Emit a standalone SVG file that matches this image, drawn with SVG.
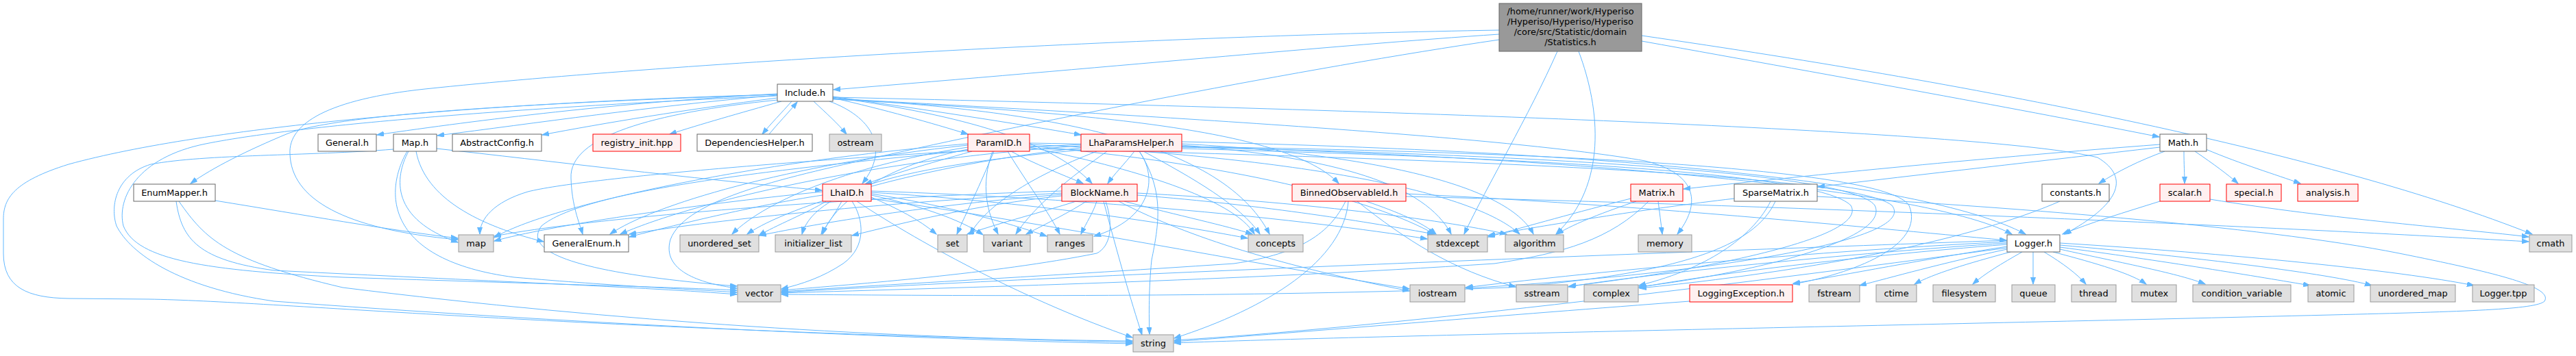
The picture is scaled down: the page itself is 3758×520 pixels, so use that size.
<svg xmlns="http://www.w3.org/2000/svg" width="3758" height="520" viewBox="0 0 3758 520">
<style>
rect{stroke-width:1}
.w{fill:#fff;stroke:#666}
.g{fill:#e0e0e0;stroke:#999}
.r{fill:#fff0f0;stroke:#f00}
.root{fill:#999;stroke:#666}
text{font-family:"DejaVu Sans","Liberation Sans",sans-serif;font-size:12.9px;text-anchor:middle;fill:#000}
#edges path{fill:none;stroke:#63b8ff;stroke-width:1;marker-end:url(#a)}
</style>
<defs>
<marker id="a" markerWidth="12" markerHeight="9" refX="10" refY="3.5" orient="auto" markerUnits="userSpaceOnUse"><path d="M0,0 L10,3.5 L0,7 z" fill="#63b8ff" stroke="#63b8ff"/></marker>
</defs>
<rect width="3758" height="520" fill="#fff"/>
<g id="edges">
<path d="M2187,50 C1950,66 1600,100 1216,131"/>
<path d="M2395,60 C2700,115 2950,160 3150,200"/>
<path d="M2395,52 C2900,125 3400,225 3694,342"/>
<path d="M2272,75 C2230,170 2170,270 2136,342"/>
<path d="M2303,75 C2335,160 2345,270 2270,342"/>
<path d="M2187,44 C1700,52 1000,90 620,130 C480,145 420,180 423,225 C425,290 500,335 668,350"/>
<path d="M2187,58 C1900,100 1500,180 1300,225 C1150,258 1000,290 978,350 C965,395 1020,414 1075,421"/>
<path d="M1134,137 C900,150 700,175 550,197"/>
<path d="M1134,139 C950,155 780,180 638,198"/>
<path d="M1134,143 C1000,160 880,180 791,197"/>
<path d="M1140,148 C1080,165 1020,182 977,196"/>
<path d="M1155,148 C1140,165 1125,180 1112,196"/>
<path d="M1122,196 C1135,180 1150,165 1163,149"/>
<path d="M1187,148 C1205,165 1222,180 1235,196"/>
<path d="M1215,143 C1290,160 1360,180 1412,196"/>
<path d="M1215,141 C1350,160 1480,180 1577,197"/>
<path d="M1210,148 C1270,170 1300,215 1258,268"/>
<path d="M1215,142 C1380,165 1530,200 1593,268"/>
<path d="M1215,145 C1600,165 1880,190 1953,268"/>
<path d="M1215,144 C1500,160 1780,200 1852,342"/>
<path d="M1215,144 C1700,170 2200,200 2400,235 C2480,255 2480,300 2447,342"/>
<path d="M1215,142 C2000,160 2900,190 3060,230 C3110,260 3090,300 3012,342"/>
<path d="M1134,146 C950,165 830,200 833,260 C834,300 845,325 850,342"/>
<path d="M1134,138 C800,150 500,165 420,195 C360,220 310,245 278,268"/>
<path d="M1134,138 C700,150 300,185 100,240 C20,265 5,290 5,320 L5,370 C5,420 40,435 100,436 L217,437 C400,440 800,480 1652,500"/>
<path d="M1134,140 C800,155 450,180 300,210 C200,230 170,290 180,330 C200,380 300,395 500,405 C800,415 1000,420 1075,424"/>
<path d="M596,221 C575,260 570,320 668,354"/>
<path d="M607,221 C620,290 700,330 793,353"/>
<path d="M637,217 C800,235 1000,260 1199,278"/>
<path d="M594,221 C560,280 560,380 750,405 C900,418 1000,422 1075,427"/>
<path d="M574,218 C450,228 300,225 220,240 C170,255 160,300 170,330 C190,370 260,420 400,440 C800,470 1300,495 1652,502"/>
<path d="M314,293 C450,315 560,335 668,348"/>
<path d="M257,294 C265,350 290,380 400,395 C700,410 950,420 1075,430"/>
<path d="M261,294 C300,350 330,380 500,420 C900,470 1300,495 1652,498"/>
<path d="M1418,221 C1350,240 1300,255 1262,269"/>
<path d="M1475,221 C1510,240 1550,255 1580,268"/>
<path d="M1450,221 C1430,270 1410,310 1396,342"/>
<path d="M1448,221 C1430,270 1440,310 1456,342"/>
<path d="M1470,221 C1500,270 1530,310 1546,342"/>
<path d="M1502,215 C1650,245 1800,290 1830,342"/>
<path d="M1412,210 C1100,235 800,300 721,347"/>
<path d="M1412,212 C1150,240 950,300 890,342"/>
<path d="M1412,215 C1250,240 1120,290 1068,342"/>
<path d="M1412,218 C1300,240 1220,290 1200,342"/>
<path d="M1502,213 C1800,240 2000,290 2093,342"/>
<path d="M1502,211 C1900,230 2150,280 2217,342"/>
<path d="M1502,209 C2200,220 2800,270 2935,342"/>
<path d="M1502,217 C2000,230 2700,250 2760,300 C2800,350 2500,400 2139,421"/>
<path d="M1412,220 C1100,250 850,280 790,330 C760,370 850,400 1075,418"/>
<path d="M1655,221 C1640,240 1625,255 1616,268"/>
<path d="M1600,221 C1500,260 1440,300 1415,342"/>
<path d="M1615,221 C1560,260 1510,300 1482,342"/>
<path d="M1662,221 C1690,260 1680,320 1596,345"/>
<path d="M1668,221 C1740,260 1810,300 1838,342"/>
<path d="M1724,212 C1950,230 2080,270 2117,342"/>
<path d="M1724,210 C2000,225 2200,270 2237,342"/>
<path d="M1724,207 C2300,220 2800,260 2955,342"/>
<path d="M1577,211 C1200,230 850,260 770,280 C720,295 700,320 700,342"/>
<path d="M1577,213 C1250,235 1000,300 905,342"/>
<path d="M1577,216 C1350,240 1150,300 1090,342"/>
<path d="M1577,219 C1350,240 1190,270 1170,342"/>
<path d="M1724,217 C2200,230 2650,250 2700,300 C2730,350 2450,400 2289,418"/>
<path d="M1724,215 C2200,225 2700,250 2735,300 C2760,350 2550,400 2391,419"/>
<path d="M1724,214 C2250,222 2750,245 2785,300 C2810,360 2700,400 2616,415"/>
<path d="M1662,221 C1700,280 1690,330 1680,380 C1676,420 1676,460 1677,488"/>
<path d="M1200,280 C1000,300 800,330 721,352"/>
<path d="M1200,285 C1100,300 980,330 918,346"/>
<path d="M1205,294 C1180,310 1130,330 1107,344"/>
<path d="M1228,294 C1220,310 1208,325 1198,342"/>
<path d="M1271,288 C1310,305 1340,320 1366,342"/>
<path d="M1271,285 C1340,300 1400,320 1434,343"/>
<path d="M1271,283 C1380,300 1470,325 1527,345"/>
<path d="M1271,281 C1500,295 1700,325 1820,348"/>
<path d="M1271,279 C1600,290 1900,320 2082,349"/>
<path d="M1243,294 C1260,320 1265,360 1230,385 C1200,405 1170,415 1140,422"/>
<path d="M1250,294 C1350,360 1500,440 1652,493"/>
<path d="M1271,290 C1550,330 1800,380 2056,422"/>
<path d="M1549,279 C1200,290 850,320 721,345"/>
<path d="M1549,282 C1300,295 1050,320 918,342"/>
<path d="M1549,284 C1350,300 1200,325 1108,344"/>
<path d="M1549,286 C1420,300 1320,325 1243,344"/>
<path d="M1570,294 C1520,310 1460,325 1411,342"/>
<path d="M1585,294 C1560,310 1530,325 1497,342"/>
<path d="M1600,294 C1595,310 1585,325 1577,342"/>
<path d="M1640,294 C1720,315 1790,330 1827,342"/>
<path d="M1659,285 C1850,300 2000,325 2092,342"/>
<path d="M1659,282 C1900,295 2100,320 2198,342"/>
<path d="M1610,294 C1630,370 1650,440 1666,489"/>
<path d="M1613,294 C1625,330 1620,360 1600,370 C1450,400 1250,415 1140,424"/>
<path d="M1632,294 C1720,340 1850,385 2056,425"/>
<path d="M1993,294 C2040,310 2075,325 2095,342"/>
<path d="M1980,294 C2050,350 2120,395 2211,419"/>
<path d="M1967,294 C1960,380 1850,450 1713,494"/>
<path d="M1963,294 C1940,340 1900,370 1800,385 C1500,405 1250,418 1140,426"/>
<path d="M2051,287 C2600,300 3300,330 3689,353"/>
<path d="M2051,283 C2400,300 2700,330 2927,351"/>
<path d="M2379,290 C2300,310 2230,330 2171,346"/>
<path d="M2387,294 C2340,310 2300,325 2271,342"/>
<path d="M2419,294 C2421,310 2423,325 2425,342"/>
<path d="M2405,294 C2350,350 2280,370 2180,385 C1800,410 1400,420 1140,428"/>
<path d="M2530,290 C2400,305 2250,330 2171,344"/>
<path d="M2583,294 C2560,340 2500,390 2391,417"/>
<path d="M2590,294 C2560,360 2450,400 2200,420 C1800,435 1400,432 1140,430"/>
<path d="M2651,287 C2900,300 3300,330 3500,370 C3650,400 3725,420 3712,440 C3700,452 3600,455 3400,460 C2800,475 2000,490 1713,501"/>
<path d="M3005,294 C2900,340 2700,390 2392,421"/>
<path d="M3151,294 C3100,310 3050,325 3009,342"/>
<path d="M3224,291 C3400,320 3600,335 3689,346"/>
<path d="M3151,211 C2900,230 2650,255 2456,276"/>
<path d="M3151,215 C2980,235 2800,255 2652,273"/>
<path d="M3158,221 C3120,235 3090,250 3062,268"/>
<path d="M3186,221 C3186,240 3187,255 3187,268"/>
<path d="M3202,221 C3230,240 3250,255 3265,268"/>
<path d="M3218,218 C3270,240 3320,255 3356,268"/>
<path d="M2966,368 L2966,415"/>
<path d="M2950,368 C2920,385 2895,400 2878,415"/>
<path d="M2933,368 C2870,385 2820,400 2793,415"/>
<path d="M2928,364 C2830,385 2760,405 2713,417"/>
<path d="M2928,360 C2800,380 2700,400 2616,414"/>
<path d="M2982,368 C3010,385 3030,400 3043,415"/>
<path d="M2995,368 C3060,385 3110,400 3131,415"/>
<path d="M3005,364 C3100,385 3180,400 3217,415"/>
<path d="M3005,361 C3150,380 3300,405 3370,417"/>
<path d="M3005,358 C3200,375 3400,400 3460,417"/>
<path d="M3005,355 C3250,370 3500,395 3609,417"/>
<path d="M2928,357 C2700,375 2500,400 2391,420"/>
<path d="M2928,355 C2700,370 2400,400 2288,419"/>
<path d="M2928,353 C2600,370 2300,400 2138,420"/>
<path d="M2928,351 C2400,370 1600,400 1140,427"/>
<path d="M2928,362 C2500,420 2000,480 1713,497"/>
<path d="M2465,440 C2200,460 1900,485 1713,499"/>
</g>
<g id="n_root"><rect class="root" x="2187" y="5" width="208" height="70"/><text x="2291" y="21">/home/runner/work/Hyperiso</text><text x="2291" y="36">/Hyperiso/Hyperiso/Hyperiso</text><text x="2291" y="51">/core/src/Statistic/domain</text><text x="2291" y="66">/Statistics.h</text></g>
<g id="n_include"><rect class="w" x="1134" y="123" width="81" height="25"/><text x="1174.5" y="140">Include.h</text></g>
<g id="n_general"><rect class="w" x="464" y="196" width="85" height="25"/><text x="506.5" y="213">General.h</text></g>
<g id="n_maph"><rect class="w" x="574" y="196" width="63" height="25"/><text x="605.5" y="213">Map.h</text></g>
<g id="n_abstractconfig"><rect class="w" x="660" y="196" width="130" height="25"/><text x="725" y="213">AbstractConfig.h</text></g>
<g id="n_registry"><rect class="r" x="865" y="196" width="128" height="25"/><text x="929" y="213">registry_init.hpp</text></g>
<g id="n_dependencies"><rect class="w" x="1017" y="196" width="168" height="25"/><text x="1101" y="213">DependenciesHelper.h</text></g>
<g id="n_ostream"><rect class="g" x="1210" y="196" width="76" height="25"/><text x="1248" y="213">ostream</text></g>
<g id="n_paramid"><rect class="r" x="1412" y="196" width="90" height="25"/><text x="1457" y="213">ParamID.h</text></g>
<g id="n_lhaparams"><rect class="r" x="1577" y="196" width="147" height="25"/><text x="1650.5" y="213">LhaParamsHelper.h</text></g>
<g id="n_math"><rect class="w" x="3151" y="196" width="68" height="25"/><text x="3185" y="213">Math.h</text></g>
<g id="n_enummapper"><rect class="w" x="195" y="269" width="119" height="25"/><text x="254.5" y="286">EnumMapper.h</text></g>
<g id="n_lhaid"><rect class="r" x="1200" y="269" width="71" height="25"/><text x="1235.5" y="286">LhaID.h</text></g>
<g id="n_blockname"><rect class="r" x="1549" y="269" width="110" height="25"/><text x="1604" y="286">BlockName.h</text></g>
<g id="n_binned"><rect class="r" x="1885" y="269" width="166" height="25"/><text x="1968" y="286">BinnedObservableId.h</text></g>
<g id="n_matrix"><rect class="r" x="2379" y="269" width="76" height="25"/><text x="2417" y="286">Matrix.h</text></g>
<g id="n_sparse"><rect class="w" x="2530" y="269" width="121" height="25"/><text x="2590.5" y="286">SparseMatrix.h</text></g>
<g id="n_constants"><rect class="w" x="2979" y="269" width="98" height="25"/><text x="3028" y="286">constants.h</text></g>
<g id="n_scalar"><rect class="r" x="3151" y="269" width="73" height="25"/><text x="3187.5" y="286">scalar.h</text></g>
<g id="n_special"><rect class="r" x="3248" y="269" width="80" height="25"/><text x="3288" y="286">special.h</text></g>
<g id="n_analysis"><rect class="r" x="3352" y="269" width="88" height="25"/><text x="3396" y="286">analysis.h</text></g>
<g id="n_map"><rect class="g" x="669" y="343" width="51" height="25"/><text x="694.5" y="360">map</text></g>
<g id="n_generalenum"><rect class="w" x="794" y="343" width="123" height="25"/><text x="855.5" y="360">GeneralEnum.h</text></g>
<g id="n_unordered_set"><rect class="g" x="992" y="343" width="115" height="25"/><text x="1049.5" y="360">unordered_set</text></g>
<g id="n_initializer_list"><rect class="g" x="1131" y="343" width="111" height="25"/><text x="1186.5" y="360">initializer_list</text></g>
<g id="n_set"><rect class="g" x="1368" y="343" width="43" height="25"/><text x="1389.5" y="360">set</text></g>
<g id="n_variant"><rect class="g" x="1435" y="343" width="68" height="25"/><text x="1469" y="360">variant</text></g>
<g id="n_ranges"><rect class="g" x="1528" y="343" width="66" height="25"/><text x="1561" y="360">ranges</text></g>
<g id="n_concepts"><rect class="g" x="1821" y="343" width="80" height="25"/><text x="1861" y="360">concepts</text></g>
<g id="n_stdexcept"><rect class="g" x="2083" y="343" width="87" height="25"/><text x="2126.5" y="360">stdexcept</text></g>
<g id="n_algorithm"><rect class="g" x="2196" y="343" width="85" height="25"/><text x="2238.5" y="360">algorithm</text></g>
<g id="n_memory"><rect class="g" x="2390" y="343" width="78" height="25"/><text x="2429" y="360">memory</text></g>
<g id="n_logger"><rect class="w" x="2928" y="343" width="77" height="25"/><text x="2966.5" y="360">Logger.h</text></g>
<g id="n_cmath"><rect class="g" x="3690" y="343" width="62" height="25"/><text x="3721" y="360">cmath</text></g>
<g id="n_vector"><rect class="g" x="1076" y="416" width="63" height="25"/><text x="1107.5" y="433">vector</text></g>
<g id="n_iostream"><rect class="g" x="2057" y="416" width="80" height="25"/><text x="2097" y="433">iostream</text></g>
<g id="n_sstream"><rect class="g" x="2212" y="416" width="75" height="25"/><text x="2249.5" y="433">sstream</text></g>
<g id="n_complex"><rect class="g" x="2311" y="416" width="79" height="25"/><text x="2350.5" y="433">complex</text></g>
<g id="n_loggingexception"><rect class="r" x="2465" y="416" width="150" height="25"/><text x="2540" y="433">LoggingException.h</text></g>
<g id="n_fstream"><rect class="g" x="2639" y="416" width="74" height="25"/><text x="2676" y="433">fstream</text></g>
<g id="n_ctime"><rect class="g" x="2737" y="416" width="59" height="25"/><text x="2766.5" y="433">ctime</text></g>
<g id="n_filesystem"><rect class="g" x="2820" y="416" width="91" height="25"/><text x="2865.5" y="433">filesystem</text></g>
<g id="n_queue"><rect class="g" x="2935" y="416" width="63" height="25"/><text x="2966.5" y="433">queue</text></g>
<g id="n_thread"><rect class="g" x="3022" y="416" width="65" height="25"/><text x="3054.5" y="433">thread</text></g>
<g id="n_mutex"><rect class="g" x="3110" y="416" width="65" height="25"/><text x="3142.5" y="433">mutex</text></g>
<g id="n_condvar"><rect class="g" x="3199" y="416" width="143" height="25"/><text x="3270.5" y="433">condition_variable</text></g>
<g id="n_atomic"><rect class="g" x="3367" y="416" width="67" height="25"/><text x="3400.5" y="433">atomic</text></g>
<g id="n_unordered_map"><rect class="g" x="3458" y="416" width="124" height="25"/><text x="3520" y="433">unordered_map</text></g>
<g id="n_loggertpp"><rect class="g" x="3607" y="416" width="90" height="25"/><text x="3652" y="433">Logger.tpp</text></g>
<g id="n_string"><rect class="g" x="1653" y="489" width="59" height="25"/><text x="1682.5" y="506">string</text></g>
</svg>
